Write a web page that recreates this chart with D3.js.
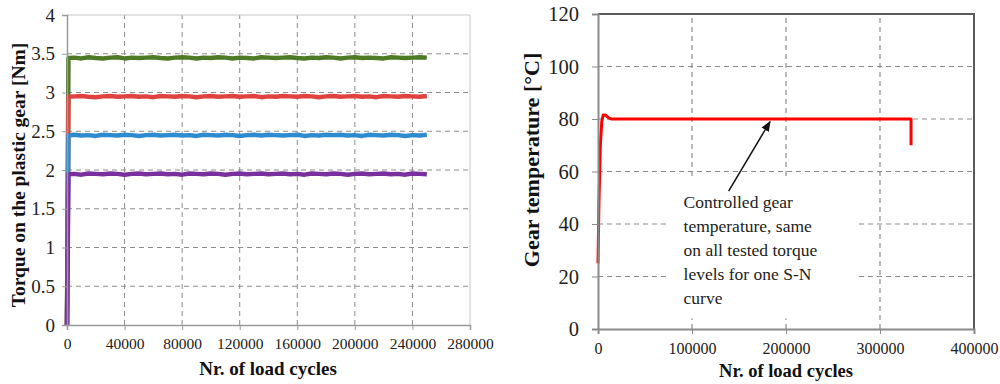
<!DOCTYPE html>
<html>
<head>
<meta charset="utf-8">
<script src="https://cdn.jsdelivr.net/npm/d3@7"></script>
<style>
  body { margin: 0; background: #fff; }
  svg { display: block; font-family: "Liberation Serif", "Times New Roman", serif; }
</style>
</head>
<body>
<svg id="chart" width="1000" height="384"></svg>
<script>
// ---------- left chart data: torque vs load cycles ----------
const cycles = [
  0, 1000, 5000, 10000, 15000, 20000, 25000, 30000, 35000, 40000,
  45000, 50000, 55000, 60000, 65000, 70000, 75000, 80000, 85000, 90000,
  95000, 100000, 105000, 110000, 115000, 120000, 125000, 130000, 135000, 140000,
  145000, 150000, 155000, 160000, 165000, 170000, 175000, 180000, 185000, 190000,
  195000, 200000, 205000, 210000, 215000, 220000, 225000, 230000, 235000, 240000,
  245000, 250000
]
const torqueGreen = [
  0, 3.445, 3.45, 3.44, 3.455, 3.445, 3.44, 3.45, 3.455, 3.44,
  3.45, 3.445, 3.45, 3.455, 3.445, 3.44, 3.45, 3.455, 3.45, 3.44,
  3.45, 3.445, 3.455, 3.45, 3.44, 3.45, 3.445, 3.44, 3.455, 3.45,
  3.445, 3.45, 3.455, 3.445, 3.44, 3.45, 3.445, 3.455, 3.45, 3.44,
  3.45, 3.455, 3.445, 3.45, 3.445, 3.44, 3.455, 3.45, 3.445, 3.45,
  3.455, 3.45
]
const torqueRed = [
  0, 2.945, 2.95, 2.955, 2.945, 2.94, 2.95, 2.955, 2.945, 2.95,
  2.955, 2.945, 2.95, 2.94, 2.955, 2.95, 2.945, 2.955, 2.95, 2.94,
  2.95, 2.955, 2.945, 2.95, 2.955, 2.945, 2.95, 2.955, 2.94, 2.95,
  2.945, 2.955, 2.95, 2.945, 2.955, 2.95, 2.94, 2.95, 2.955, 2.945,
  2.95, 2.955, 2.945, 2.95, 2.94, 2.955, 2.95, 2.945, 2.955, 2.95,
  2.945, 2.955
]
const torqueBlue = [
  0, 2.445, 2.455, 2.445, 2.45, 2.44, 2.455, 2.45, 2.445, 2.455,
  2.45, 2.44, 2.45, 2.455, 2.445, 2.45, 2.455, 2.445, 2.45, 2.44,
  2.455, 2.45, 2.445, 2.455, 2.45, 2.44, 2.45, 2.455, 2.445, 2.455,
  2.45, 2.445, 2.45, 2.455, 2.44, 2.45, 2.445, 2.455, 2.45, 2.455,
  2.445, 2.45, 2.44, 2.455, 2.45, 2.445, 2.455, 2.45, 2.44, 2.45,
  2.445, 2.455
]
const torquePurple = [
  0, 1.945, 1.95, 1.94, 1.955, 1.95, 1.945, 1.955, 1.95, 1.94,
  1.95, 1.955, 1.945, 1.95, 1.955, 1.945, 1.95, 1.94, 1.955, 1.95,
  1.945, 1.955, 1.95, 1.94, 1.95, 1.955, 1.945, 1.95, 1.955, 1.945,
  1.95, 1.955, 1.945, 1.95, 1.94, 1.955, 1.95, 1.945, 1.955, 1.95,
  1.94, 1.95, 1.955, 1.945, 1.95, 1.955, 1.945, 1.95, 1.94, 1.955,
  1.95, 1.945
]
const torqueSeries = [
  {values: torqueGreen, color: "#4e7a26"},
  {values: torqueRed, color: "#e0433f"},
  {values: torqueBlue, color: "#2f8bcf"},
  {values: torquePurple, color: "#7a2f9e"}
]
const leftXTicks = [0, 40000, 80000, 120000, 160000, 200000, 240000, 280000]
const leftYTicks = [0, 0.5, 1, 1.5, 2, 2.5, 3, 3.5, 4]

// ---------- right chart data: gear temperature ----------
const tempCycles = [0, 1000, 2500, 4000, 5500, 8000, 11000, 14000, 60000, 120000, 180000, 240000, 300000, 333000, 333000]
const tempValues = [25, 48, 70, 79, 81.5, 81.5, 80.5, 80, 80, 80, 80, 80, 80, 80, 70]
const rightXTicks = [0, 100000, 200000, 300000, 400000]
const rightYTicks = [0, 20, 40, 60, 80, 100, 120]
const noteLines = ["Controlled gear", "temperature, same", "on all tested torque", "levels for one S-N", "curve"]

const svg = d3.select("#chart")
const serif = "'Liberation Serif', 'Times New Roman', serif"

svg.append("defs").append("marker")
  .attr("id", "arrowhead")
  .attr("viewBox", "0 0 10 10")
  .attr("refX", 9).attr("refY", 5)
  .attr("markerWidth", 7).attr("markerHeight", 7)
  .attr("orient", "auto")
  .append("path").attr("d", "M0,1 L10,5 L0,9 Z").attr("fill", "#111")

// restyle a d3 axis group: serif labels of the given size, grey lines
function styleAxis(ax, fontSize, lineColor, lineWidth){
  ax.attr("font-family", serif).attr("font-size", fontSize)
  ax.select(".domain").attr("stroke", lineColor).attr("stroke-width", lineWidth)
  ax.selectAll(".tick line").attr("stroke", lineColor)
  ax.selectAll(".tick text")
    .attr("fill", "#222")
    .attr("font-family", serif)
    .attr("font-size", fontSize)
    .style("font-family", serif)
    .style("font-size", fontSize + "px")
}

/*************** left chart *********************/
const x1 = d3.scaleLinear().domain([0, 280000]).range([67, 470])
const y1 = d3.scaleLinear().domain([0, 4]).range([325, 15])

const g1 = svg.append("g")

// grid
g1.selectAll(".vgrid").data(leftXTicks.slice(1, -1)).join("line")
  .attr("x1", d => x1(d)).attr("x2", d => x1(d))
  .attr("y1", y1(0)).attr("y2", y1(4))
  .attr("stroke", "#8c8c8c").attr("stroke-width", 1).attr("stroke-dasharray", "5,4")
g1.selectAll(".hgrid").data(leftYTicks.slice(1, -1)).join("line")
  .attr("x1", x1(0)).attr("x2", x1(280000))
  .attr("y1", d => y1(d)).attr("y2", d => y1(d))
  .attr("stroke", "#8c8c8c").attr("stroke-width", 1).attr("stroke-dasharray", "5,4")
// light frame top/right
g1.append("path")
  .attr("d", `M${x1(0)},${y1(4)} H${x1(280000)} V${y1(0)}`)
  .attr("fill", "none").attr("stroke", "#c8c8c8").attr("stroke-width", 1)

const line1 = d3.line().x((d, i) => x1(cycles[i])).y(d => y1(d))
torqueSeries.forEach(s => {
  g1.append("path")
    .datum(s.values)
    .attr("d", line1)
    .attr("fill", "none")
    .attr("stroke", s.color)
    .attr("stroke-width", 4.5)
    .attr("stroke-linejoin", "round")
})

const xAxis1 = g1.append("g")
  .attr("transform", `translate(0,${y1(0)})`)
  .call(d3.axisBottom(x1).tickValues(leftXTicks).tickFormat(d3.format("d")).tickSize(5).tickPadding(8))
const yAxis1 = g1.append("g")
  .attr("transform", `translate(${x1(0)},0)`)
  .call(d3.axisLeft(y1).tickValues(leftYTicks).tickFormat(d => String(d)).tickSize(5).tickPadding(7))
styleAxis(xAxis1, 15.5, "#9a9a9a", 1.5)
styleAxis(yAxis1, 19, "#9a9a9a", 1.5)

g1.append("text")
  .attr("x", 268).attr("y", 375)
  .attr("text-anchor", "middle")
  .style("font-size", "19px").style("font-weight", "bold").attr("fill", "#111")
  .text("Nr. of load cycles")
g1.append("text")
  .attr("transform", "translate(25,175) rotate(-90)")
  .attr("text-anchor", "middle")
  .style("font-size", "19.5px").style("font-weight", "bold").attr("fill", "#111")
  .text("Torque on the plastic gear [Nm]")

/*************** right chart *********************/
const x2 = d3.scaleLinear().domain([0, 400000]).range([598, 974])
const y2 = d3.scaleLinear().domain([0, 120]).range([329, 14])

const g2 = svg.append("g")

g2.selectAll(".vgrid").data(rightXTicks.slice(1, -1)).join("line")
  .attr("x1", d => x2(d)).attr("x2", d => x2(d))
  .attr("y1", y2(0)).attr("y2", y2(120))
  .attr("stroke", "#8c8c8c").attr("stroke-width", 1.2).attr("stroke-dasharray", "5,4")
g2.selectAll(".hgrid").data(rightYTicks.slice(1, -1)).join("line")
  .attr("x1", x2(0)).attr("x2", x2(400000))
  .attr("y1", d => y2(d)).attr("y2", d => y2(d))
  .attr("stroke", "#8c8c8c").attr("stroke-width", 1.2).attr("stroke-dasharray", "5,4")

// white note box hides grid behind the annotation
g2.append("rect")
  .attr("x", x2(73500)).attr("y", y2(57))
  .attr("width", x2(275500) - x2(73500)).attr("height", y2(4) - y2(57))
  .attr("fill", "#fff")

g2.append("path")
  .attr("d", `M${x2(0)},${y2(120)} H${x2(400000)} V${y2(0)}`)
  .attr("fill", "none").attr("stroke", "#5a5a5a").attr("stroke-width", 2)

const line2 = d3.line().x((d, i) => x2(tempCycles[i])).y(d => y2(d))
g2.append("path")
  .datum(tempValues)
  .attr("d", line2)
  .attr("fill", "none")
  .attr("stroke", "#ff0000")
  .attr("stroke-width", 3)
  .attr("stroke-linejoin", "round")

const xAxis2 = g2.append("g")
  .attr("transform", `translate(0,${y2(0)})`)
  .call(d3.axisBottom(x2).tickValues(rightXTicks).tickFormat(d3.format("d")).tickSize(5).tickPadding(9))
const yAxis2 = g2.append("g")
  .attr("transform", `translate(${x2(0)},0)`)
  .call(d3.axisLeft(y2).tickValues(rightYTicks).tickFormat(d => String(d)).tickSize(6).tickPadding(13))
styleAxis(xAxis2, 16, "#8a8a8a", 2)
styleAxis(yAxis2, 20.5, "#8a8a8a", 2)

g2.append("text")
  .attr("x", 786).attr("y", 377)
  .attr("text-anchor", "middle")
  .style("font-size", "18.5px").style("font-weight", "bold").attr("fill", "#111")
  .text("Nr. of load cycles")
g2.append("text")
  .attr("transform", "translate(539,160) rotate(-90)")
  .attr("text-anchor", "middle")
  .style("font-size", "22px").style("font-weight", "bold").attr("fill", "#111")
  .text("Gear temperature [°C]")

// annotation
const note = g2.append("text")
  .attr("font-family", serif)
  .attr("x", x2(91000)).attr("y", 208)
  .style("font-size", "17.5px").attr("fill", "#222")
note.selectAll("tspan").data(noteLines).join("tspan")
  .attr("x", x2(91000))
  .attr("dy", (d, i) => i == 0 ? 0 : 24)
  .text(d => d)

g2.append("line")
  .attr("x1", x2(139000)).attr("y1", y2(52.5))
  .attr("x2", x2(183000)).attr("y2", y2(79))
  .attr("stroke", "#111").attr("stroke-width", 1.5)
  .attr("marker-end", "url(#arrowhead)")
</script>
</body>
</html>
